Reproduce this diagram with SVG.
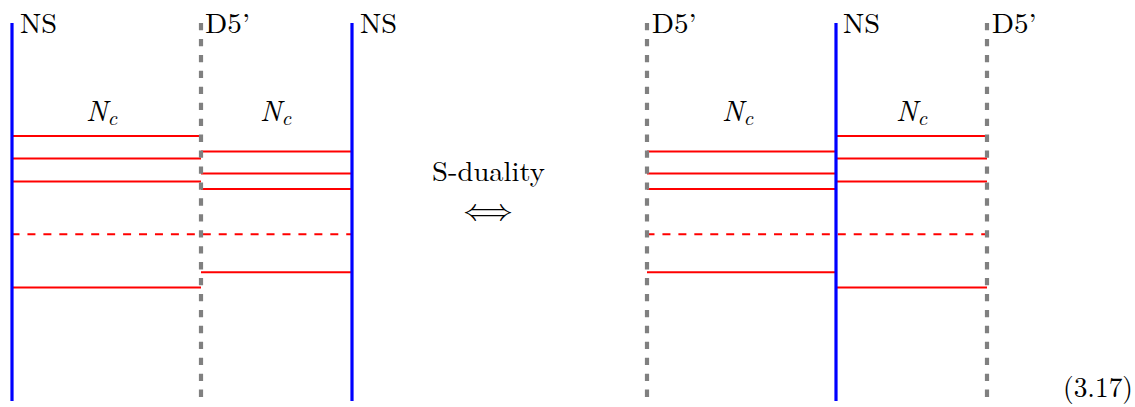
<svg xmlns="http://www.w3.org/2000/svg" width="1135" height="407" viewBox="0 0 1135 407">
<style>
.ns{stroke:#0000ff;stroke-width:3.2;fill:none}
.d5{stroke:#808080;stroke-width:4.2;stroke-dasharray:7.3 8.64;fill:none}
.s{stroke:#ff0000;stroke-width:2;fill:none}
.sd{stroke:#ff0000;stroke-width:2;stroke-dasharray:8 7.94;fill:none}
</style>
<rect width="1135" height="407" fill="#fff"/>
<g id="connectors">
<line class="s" x1="12" y1="136" x2="201" y2="136"/>
<line class="s" x1="12" y1="158.5" x2="201" y2="158.5"/>
<line class="s" x1="12" y1="181.5" x2="201" y2="181.5"/>
<line class="s" x1="12" y1="287.5" x2="201" y2="287.5"/>
<line class="s" x1="201" y1="151.5" x2="352" y2="151.5"/>
<line class="s" x1="201" y1="173.5" x2="352" y2="173.5"/>
<line class="s" x1="201" y1="189" x2="352" y2="189"/>
<line class="s" x1="201" y1="272.3" x2="352" y2="272.3"/>
<line class="sd" x1="11.5" y1="234.3" x2="352" y2="234.3"/>
<line class="s" x1="647" y1="151.5" x2="836" y2="151.5"/>
<line class="s" x1="647" y1="173.5" x2="836" y2="173.5"/>
<line class="s" x1="647" y1="189" x2="836" y2="189"/>
<line class="s" x1="647" y1="272.3" x2="836" y2="272.3"/>
<line class="s" x1="836" y1="136" x2="987" y2="136"/>
<line class="s" x1="836" y1="158.5" x2="987" y2="158.5"/>
<line class="s" x1="836" y1="181.5" x2="987" y2="181.5"/>
<line class="s" x1="836" y1="287.5" x2="987" y2="287.5"/>
<line class="sd" x1="646.5" y1="234.3" x2="987" y2="234.3"/>
</g>
<g id="ns-left">
<line class="ns" x1="12" y1="23" x2="12" y2="401"/>
<text x="20" y="32.7" font-family="Latin Modern Roman, Liberation Serif, serif" font-size="28" textLength="37" lengthAdjust="spacingAndGlyphs">NS</text>
</g>
<g id="d5-left">
<line class="d5" x1="201" y1="23" x2="201" y2="398"/>
<text x="205" y="32.7" font-family="Latin Modern Roman, Liberation Serif, serif" font-size="28" textLength="45" lengthAdjust="spacingAndGlyphs">D5’</text>
</g>
<g id="ns-mid">
<line class="ns" x1="352" y1="23" x2="352" y2="401"/>
<text x="360" y="32.7" font-family="Latin Modern Roman, Liberation Serif, serif" font-size="28" textLength="37" lengthAdjust="spacingAndGlyphs">NS</text>
</g>
<g id="nc-1"><text x="86" y="120.7" font-family="Latin Modern Roman, Liberation Serif, serif" font-size="29" font-style="italic">N<tspan font-size="21" dy="4.5">c</tspan></text></g>
<g id="nc-2"><text x="260" y="120.7" font-family="Latin Modern Roman, Liberation Serif, serif" font-size="29" font-style="italic">N<tspan font-size="21" dy="4.5">c</tspan></text></g>
<g id="sduality">
<text x="432" y="181" font-family="Latin Modern Roman, Liberation Serif, serif" font-size="28" textLength="113" lengthAdjust="spacingAndGlyphs">S-duality</text>
<text x="463" y="220.5" font-family="Latin Modern Math, DejaVu Sans, sans-serif" font-size="33" textLength="50" lengthAdjust="spacingAndGlyphs">⟺</text>
</g>
<g id="d5-r1">
<line class="d5" x1="647" y1="23" x2="647" y2="398"/>
<text x="651.7" y="32.7" font-family="Latin Modern Roman, Liberation Serif, serif" font-size="28" textLength="45" lengthAdjust="spacingAndGlyphs">D5’</text>
</g>
<g id="ns-r">
<line class="ns" x1="836" y1="23" x2="836" y2="401"/>
<text x="843" y="32.7" font-family="Latin Modern Roman, Liberation Serif, serif" font-size="28" textLength="37" lengthAdjust="spacingAndGlyphs">NS</text>
</g>
<g id="d5-r2">
<line class="d5" x1="987" y1="23" x2="987" y2="398"/>
<text x="991.7" y="32.7" font-family="Latin Modern Roman, Liberation Serif, serif" font-size="28" textLength="45" lengthAdjust="spacingAndGlyphs">D5’</text>
</g>
<g id="nc-3"><text x="722" y="120.7" font-family="Latin Modern Roman, Liberation Serif, serif" font-size="29" font-style="italic">N<tspan font-size="21" dy="4.5">c</tspan></text></g>
<g id="nc-4"><text x="896" y="120.7" font-family="Latin Modern Roman, Liberation Serif, serif" font-size="29" font-style="italic">N<tspan font-size="21" dy="4.5">c</tspan></text></g>
<g id="eqno"><text x="1063" y="396.5" font-family="Latin Modern Roman, Liberation Serif, serif" font-size="28" textLength="70" lengthAdjust="spacingAndGlyphs">(3.17)</text></g>
</svg>
